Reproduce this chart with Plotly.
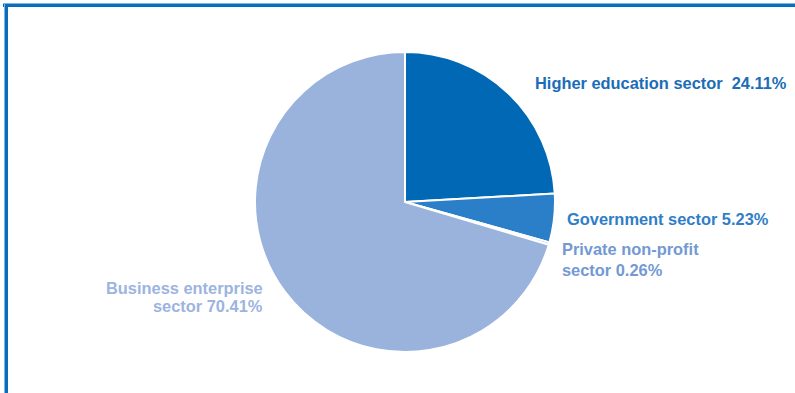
import plotly.graph_objects as go

# Sector shares of R&D expenditure (%)
sectors = ["Higher education sector", "Government sector", "Private non-profit sector", "Business enterprise sector"]
shares = [24.11, 5.23, 0.26, 70.41]
slice_colors = ["#0068b4", "#2b7fc8", "#9ab3dd", "#9ab3dd"]
label_colors = ["#1a6db6", "#2f7ec6", "#7399d4", "#9cb4df"]
label_lines = [
    ["Higher education sector  24.11%"],
    ["Government sector 5.23%"],
    ["Private non-profit", "sector 0.26%"],
    ["Business enterprise", "sector 70.41%"],
]

W, H = 795, 393
cx, cy, r = 405, 202, 150

fig = go.Figure(go.Pie(
    labels=sectors,
    values=shares,
    sort=False,
    direction="clockwise",
    rotation=0,
    textinfo="none",
    hoverinfo="label+percent",
    marker=dict(colors=slice_colors, line=dict(color="white", width=2)),
    domain=dict(x=[(cx - r) / W, (cx + r) / W], y=[(H - cy - r) / H, (H - cy + r) / H]),
    showlegend=False,
))

def px(x):
    return x / W

def py(y):
    return 1 - y / H

# label placement: anchor x, first-line y, line step, alignment (pixels)
label_pos = [
    (533, 83, 0, "left"),
    (565, 219, 0, "left"),
    (560, 249, 21, "left"),
    (265, 288, 18, "right"),
]
for lines, color, (x, y, step, align) in zip(label_lines, label_colors, label_pos):
    for i, line in enumerate(lines):
        fig.add_annotation(
            x=px(x), y=py(y + i * step), xref="paper", yref="paper",
            text=f"<b>{line}</b>", showarrow=False,
            xanchor=align, yanchor="middle", align=align,
            font=dict(family="Liberation Sans, Arial, sans-serif", size=16.4, color=color),
        )

# frame lines along the top and left edges
shapes = [
    dict(type="line", xref="paper", yref="paper", x0=px(3), x1=1, y0=py(3.5), y1=py(3.5),
         line=dict(color="#7fb3e0", width=1)),
    dict(type="line", xref="paper", yref="paper", x0=px(3), x1=1, y0=py(5.5), y1=py(5.5),
         line=dict(color="#0a6cbc", width=3)),
    dict(type="line", xref="paper", yref="paper", x0=px(4.5), x1=px(4.5), y0=0, y1=py(3),
         line=dict(color="#7fb3e0", width=1)),
    dict(type="line", xref="paper", yref="paper", x0=px(6.5), x1=px(6.5), y0=0, y1=py(4),
         line=dict(color="#0a6cbc", width=3)),
]

fig.update_layout(
    width=W, height=H,
    margin=dict(l=0, r=0, t=0, b=0),
    paper_bgcolor="white",
    plot_bgcolor="white",
    shapes=shapes,
)

fig.write_html("out.html")
